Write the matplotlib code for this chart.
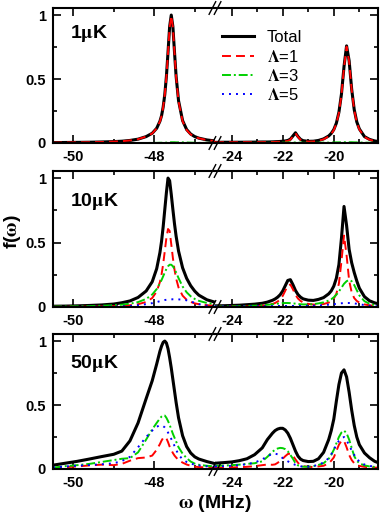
import matplotlib.pyplot as plt
from matplotlib.lines import Line2D
from matplotlib.ticker import MultipleLocator, FixedLocator, FuncFormatter

plt.rcParams["font.family"] = ["Liberation Sans", "DejaVu Sans"]
plt.rcParams["font.weight"] = "bold"
plt.rcParams["mathtext.fontset"] = "stix"
plt.rcParams["axes.unicode_minus"] = False

# frequency grids (MHz), left and right part of the broken axis
w_left = [-50.5, -50.2, -49.9, -49.6, -49.3, -49.0, -48.8, -48.6, -48.4, -48.2,
          -48.05, -47.94, -47.86, -47.82, -47.78, -47.74, -47.7, -47.66, -47.62, -47.58,
          -47.54, -47.5, -47.46, -47.4, -47.3, -47.2, -47.1, -47.0, -46.9, -46.7, -46.5]
w_right = [-24.65, -24.3, -24.0, -23.7, -23.4, -23.1, -22.8, -22.6, -22.4, -22.3,
           -22.2, -22.1, -22.0, -21.9, -21.8, -21.7, -21.6, -21.5, -21.4, -21.3,
           -21.2, -21.0, -20.8, -20.6, -20.4, -20.2, -20.1, -20.0, -19.9, -19.8,
           -19.7, -19.6, -19.5, -19.4, -19.3, -19.2, -19.1, -19.0, -18.8, -18.6,
           -18.4, -18.27]

temps = ["1", "10", "50"]
series = ["Total", "1", "3", "5"]

# 1 uK
t1_tot_l = [0.003, 0.004, 0.005, 0.006, 0.008, 0.011, 0.014, 0.02, 0.03, 0.05,
            0.076, 0.115, 0.17, 0.213, 0.281, 0.379, 0.52, 0.71, 0.91, 1.0,
            0.91, 0.71, 0.52, 0.33, 0.175, 0.105, 0.07, 0.05, 0.038, 0.024, 0.016]
t1_l1_l = [0.003, 0.004, 0.005, 0.006, 0.008, 0.011, 0.014, 0.02, 0.03, 0.05,
           0.075, 0.114, 0.168, 0.211, 0.279, 0.377, 0.517, 0.706, 0.905, 0.994,
           0.905, 0.705, 0.515, 0.325, 0.17, 0.101, 0.067, 0.048, 0.037, 0.023, 0.015]
t1_l3_l = [0.0, 0.0, 0.0, 0.0, 0.0, 0.0, 0.0, 0.0, 0.0, 0.0,
           0.001, 0.001, 0.002, 0.002, 0.002, 0.002, 0.003, 0.004, 0.005, 0.006,
           0.006, 0.006, 0.005, 0.005, 0.005, 0.004, 0.003, 0.002, 0.001, 0.001, 0.001]
t1_l5_l = [0.0, 0.0, 0.0, 0.0, 0.0, 0.0, 0.0, 0.0, 0.0, 0.0,
           0.0, 0.0, 0.0, 0.0, 0.0, 0.0, 0.0, 0.0, 0.0, 0.0,
           0.0, 0.0, 0.0, 0.0, 0.0, 0.0, 0.0, 0.0, 0.0, 0.0, 0.0]
t1_tot_r = [0.005, 0.006, 0.006, 0.006, 0.0065, 0.007, 0.008, 0.008, 0.009, 0.01,
            0.011, 0.012, 0.014, 0.016, 0.02, 0.03, 0.055, 0.08, 0.05, 0.028,
            0.018, 0.013, 0.014, 0.02, 0.032, 0.055, 0.075, 0.105, 0.155, 0.24,
            0.383, 0.598, 0.759, 0.643, 0.42, 0.26, 0.165, 0.11, 0.05, 0.028,
            0.016, 0.012]
t1_l1_r = [0.005, 0.006, 0.006, 0.006, 0.0065, 0.006, 0.007, 0.007, 0.008, 0.008,
           0.009, 0.01, 0.011, 0.013, 0.016, 0.026, 0.051, 0.076, 0.047, 0.025,
           0.016, 0.011, 0.012, 0.018, 0.029, 0.052, 0.071, 0.101, 0.15, 0.235,
           0.377, 0.592, 0.753, 0.637, 0.414, 0.255, 0.16, 0.106, 0.047, 0.026,
           0.015, 0.011]
t1_l3_r = [0.0, 0.0, 0.0, 0.0, 0.0, 0.001, 0.001, 0.001, 0.001, 0.002,
           0.002, 0.002, 0.003, 0.003, 0.004, 0.004, 0.004, 0.004, 0.003, 0.003,
           0.002, 0.002, 0.002, 0.002, 0.003, 0.003, 0.004, 0.004, 0.005, 0.005,
           0.006, 0.006, 0.006, 0.006, 0.006, 0.005, 0.005, 0.004, 0.003, 0.002,
           0.001, 0.001]
t1_l5_r = [0.0, 0.0, 0.0, 0.0, 0.0, 0.0, 0.0, 0.0, 0.0, 0.0,
           0.0, 0.0, 0.0, 0.0, 0.0, 0.0, 0.0, 0.0, 0.0, 0.0,
           0.0, 0.0, 0.0, 0.0, 0.0, 0.0, 0.0, 0.0, 0.0, 0.0,
           0.0, 0.0, 0.0, 0.0, 0.0, 0.0, 0.0, 0.0, 0.0, 0.0,
           0.0, 0.0]

# 10 uK
t10_tot_l = [0.006, 0.007, 0.009, 0.012, 0.016, 0.023, 0.033, 0.047, 0.074, 0.124,
             0.196, 0.297, 0.422, 0.509, 0.622, 0.755, 0.887, 1.0, 0.98, 0.874,
             0.757, 0.645, 0.549, 0.434, 0.304, 0.222, 0.165, 0.123, 0.092, 0.056, 0.037]
t10_l1_l = [0.0015, 0.0019, 0.0025, 0.0033, 0.0046, 0.0068, 0.0094, 0.0136, 0.0216, 0.039,
            0.0696, 0.12, 0.194, 0.252, 0.333, 0.433, 0.536, 0.605, 0.59, 0.487,
            0.381, 0.29, 0.221, 0.151, 0.088, 0.056, 0.039, 0.028, 0.022, 0.014, 0.0094]
t10_l3_l = [0.0033, 0.0041, 0.0052, 0.0068, 0.0093, 0.0136, 0.0182, 0.0256, 0.038, 0.0625,
            0.0968, 0.139, 0.183, 0.209, 0.238, 0.268, 0.295, 0.316, 0.328, 0.328,
            0.316, 0.295, 0.268, 0.224, 0.159, 0.114, 0.083, 0.0625, 0.048, 0.031, 0.0214]
t10_l5_l = [0.001, 0.001, 0.001, 0.002, 0.002, 0.003, 0.005, 0.008, 0.014, 0.022,
            0.03, 0.038, 0.045, 0.048, 0.051, 0.054, 0.056, 0.057, 0.058, 0.059,
            0.06, 0.06, 0.06, 0.059, 0.057, 0.052, 0.043, 0.032, 0.022, 0.011, 0.006]
t10_tot_r = [0.009, 0.010, 0.012, 0.014, 0.018, 0.022, 0.029, 0.038, 0.052, 0.062,
             0.076, 0.095, 0.124, 0.165, 0.206, 0.212, 0.173, 0.128, 0.096, 0.076,
             0.063, 0.053, 0.051, 0.059, 0.073, 0.102, 0.125, 0.162, 0.223, 0.329,
             0.534, 0.78, 0.633, 0.447, 0.343, 0.267, 0.202, 0.146, 0.08, 0.048,
             0.032, 0.026]
t10_l1_r = [0.002, 0.002, 0.003, 0.0035, 0.0046, 0.0066, 0.010, 0.015, 0.024, 0.031,
            0.042, 0.059, 0.086, 0.126, 0.167, 0.174, 0.137, 0.094, 0.065, 0.047,
            0.035, 0.024, 0.019, 0.019, 0.023, 0.034, 0.045, 0.065, 0.103, 0.182,
            0.355, 0.554, 0.402, 0.206, 0.113, 0.069, 0.047, 0.034, 0.020, 0.013,
            0.009, 0.0075]
t10_l3_r = [0.003, 0.004, 0.005, 0.006, 0.008, 0.01, 0.013, 0.017, 0.021, 0.024,
            0.026, 0.028, 0.03, 0.031, 0.031, 0.03, 0.028, 0.026, 0.023, 0.021,
            0.02, 0.02, 0.022, 0.028, 0.036, 0.05, 0.06, 0.075, 0.095, 0.12,
            0.15, 0.18, 0.2, 0.21, 0.2, 0.17, 0.13, 0.09, 0.045, 0.025,
            0.016, 0.012]
t10_l5_r = [0.004, 0.004, 0.004, 0.004, 0.005, 0.005, 0.006, 0.006, 0.007, 0.007,
            0.008, 0.008, 0.008, 0.008, 0.008, 0.008, 0.008, 0.008, 0.008, 0.008,
            0.008, 0.009, 0.01, 0.012, 0.014, 0.018, 0.02, 0.022, 0.025, 0.027,
            0.029, 0.03, 0.031, 0.031, 0.03, 0.028, 0.025, 0.022, 0.015, 0.01,
            0.007, 0.006]

# 50 uK
t50_tot_l = [0.03, 0.045, 0.06, 0.078, 0.097, 0.115, 0.14, 0.22, 0.36, 0.55,
             0.69, 0.82, 0.92, 0.96, 0.99, 1.0, 0.985, 0.94, 0.87, 0.79,
             0.7, 0.61, 0.52, 0.4, 0.26, 0.175, 0.125, 0.095, 0.078, 0.058, 0.042]
t50_l1_l = [0.008, 0.014, 0.02, 0.028, 0.034, 0.03, 0.04, 0.065, 0.085, 0.09,
            0.105, 0.15, 0.195, 0.222, 0.243, 0.25, 0.24, 0.21, 0.175, 0.15,
            0.125, 0.105, 0.09, 0.07, 0.05, 0.035, 0.025, 0.018, 0.015, 0.012, 0.01]
t50_l3_l = [0.01, 0.022, 0.03, 0.04, 0.055, 0.07, 0.08, 0.085, 0.13, 0.23,
            0.31, 0.36, 0.395, 0.41, 0.42, 0.418, 0.4, 0.375, 0.345, 0.31,
            0.275, 0.245, 0.215, 0.17, 0.12, 0.085, 0.058, 0.042, 0.033, 0.025, 0.02]
t50_l5_l = [0.012, 0.02, 0.026, 0.031, 0.037, 0.045, 0.062, 0.095, 0.17, 0.25,
            0.3, 0.33, 0.342, 0.34, 0.335, 0.325, 0.31, 0.285, 0.26, 0.235,
            0.21, 0.18, 0.15, 0.112, 0.075, 0.055, 0.042, 0.034, 0.028, 0.021, 0.017]
t50_tot_r = [0.045, 0.05, 0.055, 0.065, 0.08, 0.112, 0.165, 0.23, 0.28, 0.3,
             0.312, 0.318, 0.318, 0.305, 0.28, 0.24, 0.19, 0.14, 0.1, 0.077,
             0.066, 0.058, 0.06, 0.08, 0.13, 0.23, 0.3, 0.39, 0.53, 0.66,
             0.75, 0.775, 0.72, 0.6, 0.46, 0.34, 0.25, 0.19, 0.125, 0.088,
             0.06, 0.05]
t50_l1_r = [0.01, 0.011, 0.012, 0.014, 0.017, 0.022, 0.03, 0.035, 0.033, 0.036,
            0.048, 0.063, 0.08, 0.1, 0.117, 0.12, 0.105, 0.075, 0.048, 0.03,
            0.022, 0.017, 0.016, 0.02, 0.025, 0.045, 0.065, 0.09, 0.14, 0.19,
            0.22, 0.22, 0.17, 0.11, 0.07, 0.045, 0.032, 0.024, 0.017, 0.013,
            0.011, 0.01]
t50_l3_r = [0.025, 0.027, 0.03, 0.034, 0.04, 0.045, 0.06, 0.095, 0.135, 0.15,
            0.16, 0.165, 0.163, 0.155, 0.138, 0.11, 0.08, 0.045, 0.028, 0.02,
            0.018, 0.018, 0.022, 0.032, 0.045, 0.08, 0.11, 0.15, 0.2, 0.25,
            0.285, 0.3, 0.28, 0.23, 0.165, 0.1, 0.065, 0.045, 0.028, 0.02,
            0.016, 0.014]
t50_l5_r = [0.02, 0.022, 0.025, 0.03, 0.038, 0.05, 0.075, 0.1, 0.118, 0.12,
            0.115, 0.1, 0.085, 0.072, 0.06, 0.05, 0.04, 0.032, 0.026, 0.021,
            0.019, 0.018, 0.022, 0.035, 0.05, 0.085, 0.115, 0.15, 0.19, 0.22,
            0.24, 0.25, 0.225, 0.185, 0.145, 0.11, 0.08, 0.058, 0.035, 0.024,
            0.018, 0.016]

panels = [
    ([t1_tot_l, t1_l1_l, t1_l3_l, t1_l5_l], [t1_tot_r, t1_l1_r, t1_l3_r, t1_l5_r]),
    ([t10_tot_l, t10_l1_l, t10_l3_l, t10_l5_l], [t10_tot_r, t10_l1_r, t10_l3_r, t10_l5_r]),
    ([t50_tot_l, t50_l1_l, t50_l3_l, t50_l5_l], [t50_tot_r, t50_l1_r, t50_l3_r, t50_l5_r]),
]

styles = [
    dict(color="black", lw=2.2, ls="-"),
    dict(color="#ff0000", lw=1.4, ls=(0, (4.6, 2.6))),
    dict(color="#00d000", lw=1.4, ls=(0, (4.6, 1.5, 1.0, 1.5))),
    dict(color="#0000ff", lw=1.4, ls=(0, (1.0, 2.6))),
]
labels = ["Total" if s == "Total" else r"$\Lambda$=" + s for s in series]

W, H = 382, 514
x0, xb, x1 = 53 / W, 215 / W, 378 / W
rows = [(8, 143), (171, 307), (334, 469)]
label_y = [0.775, 0.745, 0.745]


def style_axis(ax, side):
    ax.set_ylim(0, 1.055)
    ax.xaxis.set_major_locator(MultipleLocator(2))
    ax.xaxis.set_minor_locator(MultipleLocator(1))
    ax.yaxis.set_major_locator(FixedLocator([0, 0.5, 1]))
    ax.yaxis.set_minor_locator(FixedLocator([0.25, 0.75]))
    ax.yaxis.set_major_formatter(FuncFormatter(lambda v, _: f"{v:g}"))
    ax.tick_params(which="both", direction="in", top=True, width=1.2,
                   left=(side == "l"), right=(side == "r"),
                   labelleft=(side == "l"), labelright=False,
                   labelsize=10.5, pad=5)
    ax.tick_params(which="major", length=5.5)
    ax.tick_params(which="minor", length=3)
    for sp in ax.spines.values():
        sp.set_linewidth(1.5)
    if side == "l":
        ax.spines["right"].set_visible(False)
    else:
        ax.spines["left"].set_visible(False)


fig = plt.figure(figsize=(W / 100, H / 100), dpi=100)

for i, (top, bot) in enumerate(rows):
    b = 1 - bot / H
    h = (bot - top) / H
    axl = fig.add_axes([x0, b, xb - x0, h])
    axr = fig.add_axes([xb, b, x1 - xb, h])
    left_vals, right_vals = panels[i]
    for k in range(4):
        axl.plot(w_left, left_vals[k], **styles[k])
        axr.plot(w_right, right_vals[k], label=labels[k], **styles[k])
    axl.set_xlim(-50.5, -46.5)
    axr.set_xlim(-24.65, -18.27)
    style_axis(axl, "l")
    style_axis(axr, "r")
    axl.text(0.105, label_y[i], temps[i] + r"$\mathrm{\mu}$K",
             transform=axl.transAxes, fontsize=14, fontweight="bold")

    # break marks on top and bottom spines
    for yy in (top, bot):
        yc = 1 - yy / H
        for dx in (-2.6, 2.6):
            xc = xb + dx / W
            fig.add_artist(Line2D([xc - 3.3 / W, xc + 3.3 / W],
                                  [yc - 6.3 / H, yc + 6.3 / H],
                                  color="black", lw=1.0))

    if i == 0:
        axr.legend(loc="upper left", bbox_to_anchor=(0.04, 0.835),
                   frameon=False, borderpad=0, borderaxespad=0,
                   handlelength=1.95, handletextpad=0.75, labelspacing=0.2,
                   prop={"size": 12, "weight": "normal"})

fig.text(0.034, 1 - 232 / H, r"f($\mathrm{\omega}$)", rotation=90,
         ha="center", va="center", fontsize=14, fontweight="bold")
fig.text(xb, 1 - 503 / H, r"$\mathrm{\omega}$ (MHz)",
         ha="center", va="center", fontsize=14, fontweight="bold")

fig.savefig("out.png", dpi=100)
